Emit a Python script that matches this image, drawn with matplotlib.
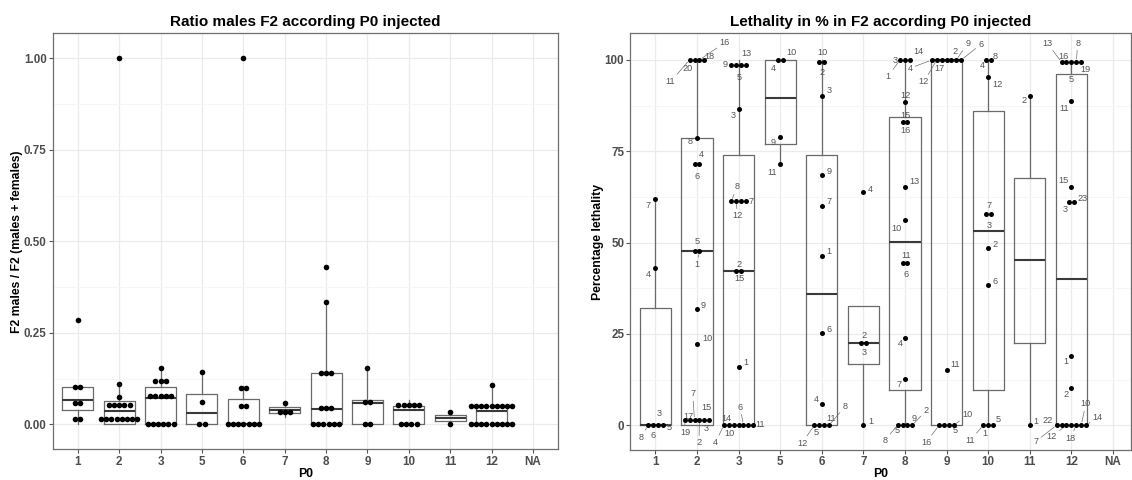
import matplotlib
matplotlib.use("Agg")
import matplotlib.pyplot as plt
from matplotlib.ticker import FixedLocator

plt.rcParams["font.family"] = ["Liberation Sans", "DejaVu Sans"]

# ---------------------------------------------------------------- data
P0 = ["1", "2", "3", "5", "6", "7", "8", "9", "10", "11", "12", "NA"]

# F2 males / F2 (males + females), one value per F1 cross, by injected P0
ratio_1 = [0.0, 0.029, 0.05, 0.0667, 0.1, 0.1053, 0.2857]
ratio_2 = [0, 0, 0, 0, 0, 0.02, 0.0278, 0.032, 0.04, 0.05, 0.0556, 0.0625,
           0.0645, 0.0741, 0.1111, 1.0]
ratio_3 = [0, 0, 0, 0, 0, 0, 0.0625, 0.0714, 0.0769, 0.08, 0.0909, 0.1111,
           0.1176, 0.125, 0.1538]
ratio_5 = [0, 0, 0.0625, 0.1429]
ratio_6 = [0, 0, 0, 0, 0, 0, 0, 0.04, 0.0625, 0.0909, 0.1053, 1.0]
ratio_7 = [0.02, 0.0333, 0.0455, 0.0588]
ratio_8 = [0, 0, 0, 0, 0, 0, 0.04, 0.0455, 0.05, 0.1333, 0.1429, 0.15,
           0.3333, 0.4286]
ratio_9 = [0, 0, 0.0571, 0.0667, 0.1538]
ratio_10 = [0, 0, 0, 0, 0.04, 0.0455, 0.05, 0.0556, 0.0667]
ratio_11 = [0, 0.0345]
ratio_12 = [0, 0, 0, 0, 0, 0, 0, 0, 0, 0.0357, 0.04, 0.0417, 0.0455, 0.05,
            0.05, 0.0526, 0.0556, 0.0625, 0.1081]
ratio_na = []

# Lethality (%) in F2 and the F1 identifiers, by injected P0
leth_1 = [0, 0, 0, 0, 42.9, 61.9]
ids_1 = ["8", "6", "3", "5", "4", "7"]
leth_2 = [100, 100, 100, 100, 78.6, 71.4, 71.4, 47.6, 47.6, 31.8, 22.2,
          0, 0, 0, 0, 0, 2.9]
ids_2 = ["11", "20", "16", "18", "8", "6", "4", "5", "1", "9", "10",
         "19", "17", "7", "2", "3", "15"]
leth_3 = [100, 97.2, 100, 97.2, 86.5, 61.1, 61.5, 61.5, 61.1, 42.3, 42.3,
          16.0, 0, 0, 0, 0, 0, 0, 0]
ids_3 = ["9", "5", "", "13", "3", "8", "12", "", "7", "2", "15", "1",
         "4", "10", "14", "", "6", "", "11"]
leth_5 = [100, 100, 78.9, 71.4]
ids_5 = ["4", "10", "9", "11"]
leth_6 = [99.0, 100, 90.2, 68.6, 60.1, 46.4, 25.2, 5.9, 0, 0, 0, 0]
ids_6 = ["10", "2", "3", "9", "7", "1", "6", "4", "12", "5", "11", "8"]
leth_7 = [63.8, 22.4, 22.4, 0]
ids_7 = ["4", "2", "3", "1"]
leth_8 = [100, 100, 100, 88.6, 82.9, 82.9, 65.1, 56.1, 44.3, 44.3, 24.0,
          12.7, 0, 0, 0, 0]
ids_8 = ["1", "3", "14", "12", "15", "16", "13", "10", "11", "6", "4", "7",
         "8", "5", "9", "2"]
leth_9 = [100, 100, 100, 100, 100, 100, 100, 15.1, 0, 0, 0, 0]
ids_9 = ["4", "12", "17", "", "2", "9", "6", "11", "16", "", "5", "10"]
leth_10 = [100, 100, 95.4, 57.7, 57.7, 48.5, 38.4, 0, 0, 0]
ids_10 = ["4", "8", "12", "7", "3", "2", "6", "11", "1", "5"]
leth_11 = [90.2, 0]
ids_11 = ["2", "1"]
leth_12 = [100, 98.8, 100, 98.8, 100, 88.7, 65.3, 61.2, 61.2, 19.0, 10.1,
           0, 0, 0, 0, 0, 0, 0]
ids_12 = ["13", "16", "5", "8", "19", "11", "15", "3", "23", "1", "2",
          "7", "22", "12", "", "18", "10", "14"]
leth_na = []
ids_na = []

ratio_groups = [ratio_1, ratio_2, ratio_3, ratio_5, ratio_6, ratio_7,
                ratio_8, ratio_9, ratio_10, ratio_11, ratio_12, ratio_na]
leth_groups = [leth_1, leth_2, leth_3, leth_5, leth_6, leth_7, leth_8,
               leth_9, leth_10, leth_11, leth_12, leth_na]
id_groups = [ids_1, ids_2, ids_3, ids_5, ids_6, ids_7, ids_8, ids_9,
             ids_10, ids_11, ids_12, ids_na]

# ------------------------------------------------- label placement (px)
# repelled label offsets (dx, dy) in pixels, one per point, same order
label_nudge = [
    [(-6.6, -12.3), (0.4, -10.3), (1.5, 12), (7, -2.3), (-6.6, -5.7),
     (-6.9, -6.3)],
    [(-19, -21.7), (-7.3, -8.3), (25.2, 17.3), (4.7, 3.3), (-6.6, -3.7),
     (2.9, -12), (1.5, 9.7), (2.9, 10.3), (-2.2, -13.3), (6.6, 3.3),
     (10.2, 6), (0.4, -13), (-0.7, 3.7), (-1.8, 26), (-0.4, -23),
     (2.2, -8.7), (-2.6, 12)],
    [(-6, 1), (2.9, -12), (0, 0), (0.7, 12), (-5.8, -6.3), (5.8, 14.3),
     (1.5, -14.7), (0, 0), (5, 0), (2.9, 6.3), (-1.8, -8.3), (7.3, 4.3),
     (-8.4, -17.3), (0.7, -8.7), (-7.7, 7), (0, 0), (-3.3, 18), (0, 0),
     (7, 1)],
    [(-4, -8.3), (8.4, 7.3), (-6.6, -5.7), (-8.4, -8.3)],
    [(3.3, 9), (-2.2, -10.7), (7.7, 5), (7, 3), (7, 4), (7, 4.7), (7, 3.3),
     (-5.1, 3.7), (-12.4, -18), (-2.6, -7.3), (7, 7), (16, 18.7)],
    [(7.3, 3), (3.3, 7.7), (-1.8, -9), (7.3, 3.7)],
    [(-12.4, -16.7), (-9.8, -0.7), (8.4, 8.3), (1, 6), (2.9, 6.7),
     (-1.5, -8.3), (9.5, 5.7), (-8, -8.7), (3.6, 8.3), (-1.5, -10.7),
     (-5.1, -5.7), (-6.2, -6), (-12.8, -15.3), (-5.5, -5.7), (7, 7),
     (13.9, 14.7)],
    [(-22, -8.3), (-12.8, -21.7), (-2.2, -8.3), (0, 0), (4, 8.3),
     (11.3, 16.7), (19.7, 15.7), (8.8, 6), (-13.1, -17.3), (0, 0),
     (6.2, -5.3), (13.5, 10.3)],
    [(-2.9, -5.7), (4.7, 3.3), (9, -7.7), (3.3, 8.7), (-1.8, -11.3),
     (6.6, 3.7), (6.6, 3.3), (-12.8, -15.3), (-3.6, -8), (5.1, 5.3)],
    [(-5.8, -5), (6.6, 3.7)],
    [(-14.2, 19), (-2.6, 5.7), (-0.4, -17.7), (1.5, 19), (4.7, -7.7),
     (-7.7, -7.7), (-7.7, 5.7), (-4, -8.3), (9.1, 2.7), (-5.8, -5.7),
     (-5.8, -6.7), (-21, -16.3), (-13.5, 4.7), (-14.6, -11.3), (0, 0),
     (-5.8, -13), (4.7, 21.3), (11.7, 8)],
    [],
]

# ---------------------------------------------------------------- style
W, H = 1132, 480
GRID = "#EBEBEB"
GRID_MINOR = "#F5F5F5"
BORDER = "#6E6E6E"
BOX = "#6A6A6A"
TICK_TXT = "#4D4D4D"
LABEL_TXT = "#555555"
X_LEFT = 0.4


def dot_bins(values, binwidth):
    """Dot-density binning along y; returns (centre, member indices)."""
    order = sorted(range(len(values)), key=lambda i: values[i])
    bins, i = [], 0
    while i < len(order):
        start = values[order[i]]
        members = [order[i]]
        j = i + 1
        while j < len(order) and values[order[j]] < start + binwidth:
            members.append(order[j])
            j += 1
        centre = (values[members[0]] + values[members[-1]]) / 2
        bins.append((centre, sorted(members)))
        i = j
    return bins


def stacked_points(groups, binwidth, spacing):
    """x/y of every dot, stacked centred around each category."""
    pts = []
    for g, vals in enumerate(groups):
        pos = g + 1
        for centre, members in dot_bins(vals, binwidth):
            m = len(members)
            for k, idx in enumerate(members):
                pts.append((g, idx, pos + (k - (m - 1) / 2) * spacing, centre))
    return pts


def style_axes(ax, xlim, yticks, yticklabels, yminor, ylim, title, ylabel):
    ax.set_xlim(*xlim)
    ax.set_ylim(*ylim)
    ax.set_xticks(range(1, len(P0) + 1))
    ax.set_xticklabels(P0)
    ax.set_yticks(yticks)
    ax.set_yticklabels(yticklabels)
    ax.yaxis.set_minor_locator(FixedLocator(yminor))
    ax.tick_params(which="major", length=3, width=0.8, color="#555555",
                   labelsize=8.4, labelcolor=TICK_TXT, pad=1.5)
    ax.tick_params(which="minor", length=0)
    for lab in ax.get_xticklabels() + ax.get_yticklabels():
        lab.set_fontweight("bold")
    ax.grid(which="major", color=GRID, lw=0.9)
    ax.grid(which="minor", axis="y", color=GRID_MINOR, lw=0.6)
    ax.set_axisbelow(True)
    for sp in ax.spines.values():
        sp.set_color(BORDER)
        sp.set_linewidth(0.9)
    ax.set_title(title, fontsize=11, fontweight="bold", pad=5)
    ax.set_xlabel("P0", fontsize=8.8, fontweight="bold", labelpad=0)
    ax.set_ylabel(ylabel, fontsize=8.8, fontweight="bold", labelpad=0.5)


def draw_boxes(ax, groups):
    pos = [i + 1 for i, g in enumerate(groups) if len(g)]
    data = [g for g in groups if len(g)]
    ax.boxplot(data, positions=pos, widths=0.75, whis=1.5, showfliers=False,
               showcaps=False, manage_ticks=False,
               boxprops=dict(color=BOX, lw=0.9),
               whiskerprops=dict(color=BOX, lw=0.9),
               medianprops=dict(color="#3A3A3A", lw=1.5))


fig = plt.figure(figsize=(W / 100, H / 100), dpi=100)

# ------------------------------------------------------------ left panel
left_w = 505.0
axL = fig.add_axes([52.9 / W, 1 - 449.3 / H, left_w / W, 416.0 / H])
draw_boxes(axL, ratio_groups)
ppu_L = left_w / 12.2
ptsL = stacked_points(ratio_groups, 1 / 30, 5.2 / ppu_L)
axL.scatter([p[2] for p in ptsL], [p[3] for p in ptsL], s=(5.6 * 0.72) ** 2,
            color="black", linewidths=0, zorder=4)
style_axes(axL, (X_LEFT, 12.6), [0, 0.25, 0.5, 0.75, 1.0],
           ["0.00", "0.25", "0.50", "0.75", "1.00"],
           [0.125, 0.375, 0.625, 0.875], (-0.068, 1.068),
           "Ratio males F2 according P0 injected",
           "F2 males / F2 (males + females)")

# ----------------------------------------------------------- right panel
right_x0, right_x1 = 630.4, 1131.0
right_w = right_x1 - right_x0
ppu_R = 41.6
axR = fig.add_axes([right_x0 / W, 1 - 450.0 / H, right_w / W, 416.7 / H])
draw_boxes(axR, leth_groups)
ptsR = stacked_points(leth_groups, 100 / 30, 4.9 / ppu_R)
axR.scatter([p[2] for p in ptsR], [p[3] for p in ptsR], s=(5.0 * 0.72) ** 2,
            color="black", linewidths=0, zorder=4)
for g, idx, x, y in ptsR:
    text = id_groups[g][idx]
    if not text:
        continue
    dx, dy = label_nudge[g][idx]
    far = (dx * dx + dy * dy) ** 0.5 > 12.5
    axR.annotate(text, xy=(x, y), xytext=(dx, dy), textcoords="offset pixels",
                 ha="center", va="center", fontsize=6.6, color=LABEL_TXT,
                 zorder=3,
                 arrowprops=(dict(arrowstyle="-", color="#707070", lw=0.5,
                                  shrinkA=0, shrinkB=2.2) if far else None))
style_axes(axR, (X_LEFT, X_LEFT + right_w / ppu_R),
           [0, 25, 50, 75, 100], ["0", "25", "50", "75", "100"],
           [12.5, 37.5, 62.5, 87.5], (-6.8, 107.3),
           "Lethality in % in F2 according P0 injected",
           "Percentage lethality")

fig.savefig("out.png", dpi=100, facecolor="white")
